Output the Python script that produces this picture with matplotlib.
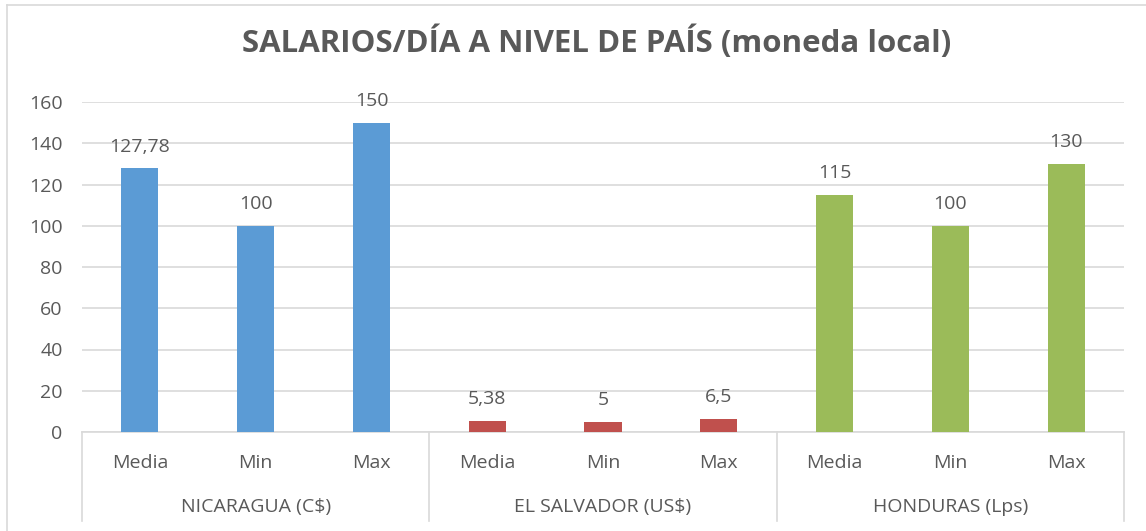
import matplotlib.pyplot as plt
from matplotlib.lines import Line2D
import matplotlib.transforms as mtransforms

# data
groups = ["NICARAGUA (C$)", "EL SALVADOR (US$)", "HONDURAS (Lps)"]
stats = ["Media", "Min", "Max"]
nicaragua = [127.78, 100, 150]
el_salvador = [5.38, 5, 6.5]
honduras = [115, 100, 130]
value_labels = [["127,78", "100", "150"], ["5,38", "5", "6,5"], ["115", "100", "130"]]
colors = ["#5B9BD5", "#C0504D", "#9BBB59"]

plt.rcParams["font.family"] = ["Open Sans", "DejaVu Sans"]
text_color = "#595959"
grid_color = "#D9D9D9"
fs = 14

W, H = 1146, 531
fig = plt.figure(figsize=(W / 100, H / 100), dpi=100)
ax = fig.add_axes([82 / W, 1 - 432 / H, (1124 - 82) / W, (432 - 102) / H])

series = [nicaragua, el_salvador, honduras]
xticks, xlabels = [], []
for gi, (vals, col, labs) in enumerate(zip(series, colors, value_labels)):
    xs = [gi * 3 + i for i in range(3)]
    bars = ax.bar(xs, vals, width=0.32, color=col, zorder=3)
    for b, lab in zip(bars, labs):
        ax.annotate(lab, (b.get_x() + b.get_width() / 2, b.get_height()),
                    xytext=(0, 9), textcoords="offset points",
                    ha="center", va="bottom", fontsize=fs, color=text_color)
    xticks += xs
    xlabels += stats

ax.set_xlim(-0.5, 8.5)
ax.set_ylim(0, 160)
ax.set_yticks(range(0, 161, 20))
ax.tick_params(axis="y", length=0, pad=14, labelsize=fs, labelcolor=text_color)
ax.set_xticks(xticks)
ax.set_xticklabels(xlabels)
ax.tick_params(axis="x", length=0, pad=16, labelsize=fs, labelcolor=text_color)
ax.grid(axis="y", color=grid_color, linewidth=1.2, zorder=0)
for s in ["top", "right", "left"]:
    ax.spines[s].set_visible(False)
ax.spines["bottom"].set_color(grid_color)
ax.spines["bottom"].set_linewidth(1.2)

# multi-level category axis: separators and group labels
trans = mtransforms.blended_transform_factory(ax.transData, ax.transAxes)
for xb in [-0.5, 2.5, 5.5, 8.5]:
    ax.plot([xb, xb], [0, -0.27], transform=trans, color=grid_color,
            linewidth=1.2, clip_on=False)
for gi, g in enumerate(groups):
    ax.text(gi * 3 + 1, -0.228, g, transform=trans, ha="center", va="center",
            fontsize=fs, color=text_color)

fig.text(597 / W, 1 - 42 / H, "SALARIOS/DÍA A NIVEL DE PAÍS (moneda local)",
         ha="center", va="center", fontsize=22.5, fontweight="bold", color=text_color)

# chart area border (top and left edges visible)
fig.add_artist(Line2D([7 / W, 1], [1 - 5 / H, 1 - 5 / H], color=grid_color, linewidth=1.2))
fig.add_artist(Line2D([7 / W, 7 / W], [0, 1 - 5 / H], color=grid_color, linewidth=1.2))

fig.savefig("out.png", dpi=100)
